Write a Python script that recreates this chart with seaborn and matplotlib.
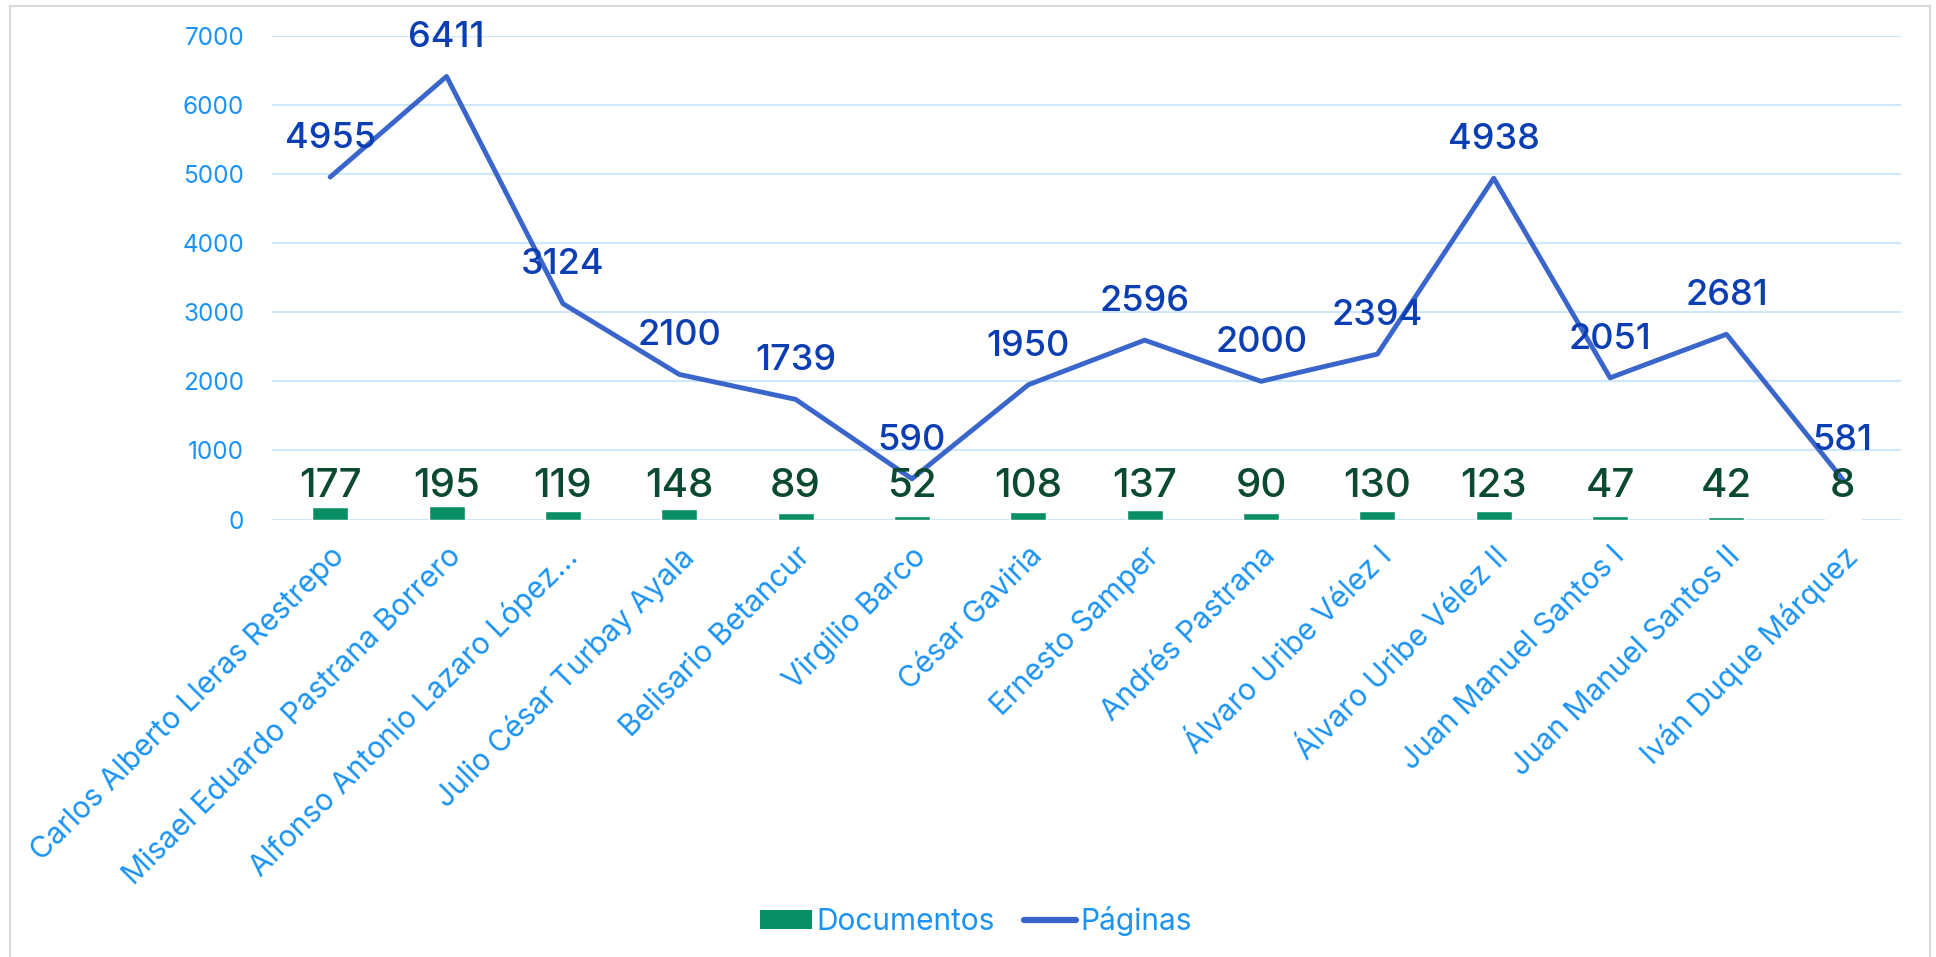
import matplotlib
matplotlib.use("Agg")
import matplotlib.pyplot as plt
import seaborn as sns
import numpy as np
import pandas as pd
from matplotlib.patches import Patch, Rectangle
from matplotlib.lines import Line2D

presidentes = [
    "Carlos Alberto Lleras Restrepo",
    "Misael Eduardo Pastrana Borrero",
    "Alfonso Antonio Lazaro López...",
    "Julio César Turbay Ayala",
    "Belisario Betancur",
    "Virgilio Barco",
    "César Gaviria",
    "Ernesto Samper",
    "Andrés Pastrana",
    "Álvaro Uribe Vélez I",
    "Álvaro Uribe Vélez II",
    "Juan Manuel Santos I",
    "Juan Manuel Santos II",
    "Iván Duque Márquez",
]
documentos = [177, 195, 119, 148, 89, 52, 108, 137, 90, 130, 123, 47, 42, 8]
paginas = [4955, 6411, 3124, 2100, 1739, 590, 1950, 2596, 2000, 2394, 4938, 2051, 2681, 581]
y_ticks = [0, 1000, 2000, 3000, 4000, 5000, 6000, 7000]

GREEN = "#0a8f65"
BLUE_LINE = "#3a66cc"
DARK_BLUE = "#0b3db3"
DARK_GREEN = "#0b4a30"
TICK_BLUE = "#1a93f5"
GRID = "#cde7fb"

sns.set_theme(style="white")
plt.rcParams["font.family"] = ["Inter", "DejaVu Sans"]

df = pd.DataFrame({"Presidente": presidentes, "Documentos": documentos, "Páginas": paginas})

fig = plt.figure(figsize=(19.36, 9.57), dpi=100)
ax = fig.add_axes([272 / 1936, 1 - 519.6 / 957, (1901 - 272) / 1936, (519.6 - 35.7) / 957])

sns.barplot(data=df, x="Presidente", y="Documentos", color=GREEN, width=0.31,
            saturation=1, ax=ax, zorder=2)
sns.pointplot(data=df, x="Presidente", y="Páginas", color=BLUE_LINE, markers="",
              linewidth=3.5, ax=ax, zorder=3)

ax.set_ylim(0, 7000)
ax.set_yticks(y_ticks)
ax.set_xlim(-0.5, len(presidentes) - 0.5)
ax.yaxis.grid(True, color=GRID, linewidth=1.5, zorder=0)
ax.xaxis.grid(False)
ax.set_axisbelow(True)
for s in ax.spines.values():
    s.set_visible(False)
ax.set_xlabel("")
ax.set_ylabel("")
ax.tick_params(axis="y", length=0, pad=20, labelsize=17.5, labelcolor=TICK_BLUE)
ax.tick_params(axis="x", length=0, pad=16, labelsize=21.5, labelcolor=TICK_BLUE)
for lbl in ax.get_xticklabels():
    lbl.set_rotation(45)
    lbl.set_ha("right")
    lbl.set_rotation_mode("anchor")

for i, v in enumerate(documentos):
    ax.text(i, 330, str(v), ha="center", va="baseline", fontsize=29,
            color=DARK_GREEN, fontweight="medium", zorder=5)
for i, v in enumerate(paginas):
    ax.annotate(str(v), (i, v), xytext=(0, 21), textcoords="offset points",
                ha="center", va="baseline", fontsize=26, color=DARK_BLUE,
                fontweight="medium", zorder=5)

handles = [Patch(facecolor=GREEN, edgecolor="none"),
           Line2D([0], [0], color=BLUE_LINE, linewidth=4.5, solid_capstyle="round")]
fig.legend(handles, ["Documentos", "Páginas"], loc="center", bbox_to_anchor=(0.504, 0.038),
           ncol=2, frameon=False, fontsize=21.5, labelcolor=TICK_BLUE,
           handlelength=1.75, handletextpad=0.12, columnspacing=1.0, handleheight=0.6)

fig.patches.append(Rectangle((10 / 1936, -0.05), (1930 - 10) / 1936, (957 - 6.4) / 957 + 0.05,
                             transform=fig.transFigure, fill=False, edgecolor="#d9d9d9",
                             linewidth=1.5, clip_on=False))

fig.savefig("out.png", dpi=100)
